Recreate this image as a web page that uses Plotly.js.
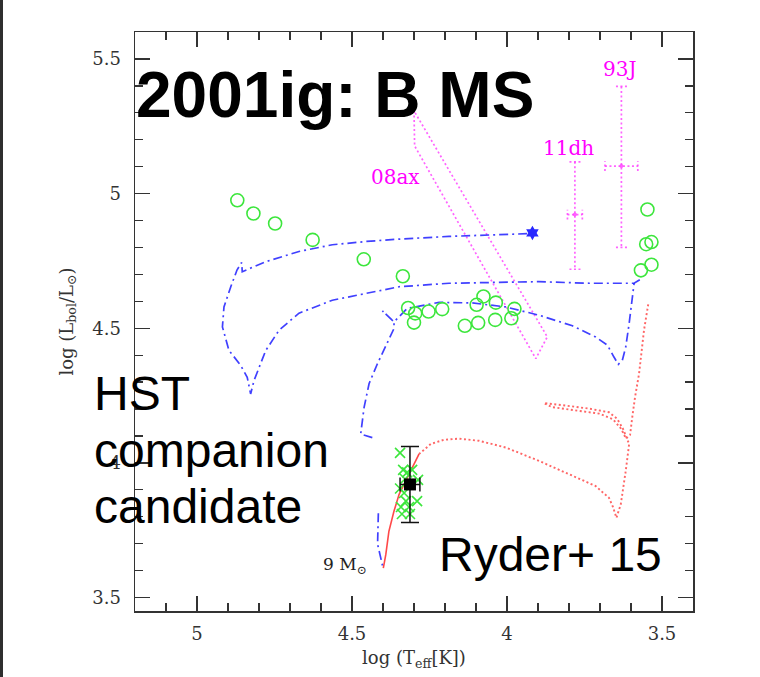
<!DOCTYPE html>
<html>
<head>
<meta charset="utf-8">
<script src="https://cdn.plot.ly/plotly-3.0.1.min.js"></script>
<style>
  html, body { margin: 0; padding: 0; background: #fff; }
  #wrap { position: relative; width: 760px; height: 677px; }
  #bar { position: absolute; left: 0; top: 0; width: 3px; height: 677px; background: #2e2e2e; z-index: 5; }
  #chart { width: 760px; height: 677px; }
</style>
</head>
<body>
<div id="wrap"><div id="bar"></div><div id="chart"></div></div>
<script>
// ---- Data (log Teff, log L) ----
const circleLogT = [4.870, 4.818, 4.748, 4.627, 4.462, 4.336, 4.319, 4.296, 4.300, 4.253, 4.209,
                    4.136, 4.093, 4.098, 4.076, 4.036, 4.038, 3.986, 3.976,
                    3.547, 3.551, 3.534, 3.534, 3.568];
const circleLogL = [4.975, 4.926, 4.889, 4.828, 4.756, 4.693, 4.575, 4.555, 4.521, 4.562, 4.571,
                    4.509, 4.520, 4.587, 4.618, 4.595, 4.531, 4.537, 4.572,
                    4.941, 4.812, 4.820, 4.736, 4.715];

const crossLogT = [4.345, 4.335, 4.306, 4.329, 4.287, 4.332, 4.290, 4.326, 4.342, 4.316, 4.339, 4.313, 4.345, 4.322];
const crossLogL = [4.037, 3.974, 3.974, 3.940, 3.937, 3.888, 3.858, 3.858, 3.836, 3.836, 3.810, 3.810, 3.905, 3.965];

// blue dash-dot track (upper)
const trackA_logT = [3.935, 4.058, 4.187, 4.348, 4.456, 4.5635, 4.671, 4.778, 4.854, 4.856, 4.871, 4.891,
                     4.913, 4.918, 4.897, 4.859, 4.838, 4.827, 4.816, 4.778, 4.735, 4.671, 4.5635, 4.456,
                     4.348, 4.187, 4.058, 3.897, 3.735, 3.590, 3.568];
const trackA_logL = [4.851, 4.847, 4.841, 4.831, 4.822, 4.810, 4.785, 4.747, 4.710, 4.744, 4.716, 4.654,
                     4.579, 4.505, 4.418, 4.362, 4.318, 4.256, 4.306, 4.418, 4.493, 4.556, 4.604, 4.629,
                     4.654, 4.667, 4.6705, 4.673, 4.667, 4.667, 4.683];
// blue dash-dot track (middle)
const trackB_logT = [4.4345, 4.472, 4.461, 4.445, 4.418, 4.386, 4.3645, 4.3645, 4.402, 4.3645, 4.322, 4.219,
                     4.113, 4.004, 3.897, 3.789, 3.714, 3.676, 3.655, 3.641, 3.628, 3.617, 3.606, 3.594, 3.590];
const trackB_logL = [4.094, 4.107, 4.206, 4.294, 4.368, 4.443, 4.499, 4.5235, 4.5645, 4.5235, 4.5735, 4.596,
                     4.594, 4.579, 4.5485, 4.509, 4.4675, 4.437, 4.393, 4.366, 4.381, 4.430, 4.5175, 4.642, 4.667];
// blue dash-dot piece of the 9 Msun track
const trackC_logT = [4.415, 4.418, 4.4175, 4.4016];
const trackC_logL = [3.813, 3.728, 3.698, 3.619];

// red 9 Msun track: solid main-sequence part and dotted later evolution
const red9ms_logT = [4.399, 4.391, 4.381, 4.3645, 4.348, 4.332, 4.3055, 4.284];
const red9ms_logL = [3.609, 3.659, 3.746, 3.821, 3.883, 3.920, 3.982, 4.0325];
const red9post_logT = [4.284, 4.246, 4.203, 4.155, 4.090, 4.004, 3.897, 3.789, 3.714, 3.671, 3.658, 3.647,
                       3.633, 3.617, 3.606,
                       3.626, 3.645, 3.671, 3.735, 3.8226, 3.881, 3.855, 3.784, 3.703, 3.658, 3.632, 3.616, 3.603,
                       3.596, 3.587, 3.574, 3.558, 3.544];
const red9post_logL = [4.0325, 4.070, 4.086, 4.090, 4.082, 4.057, 4.0075, 3.9515, 3.914, 3.870, 3.836, 3.796,
                       3.846, 3.970, 4.070,
                       4.127, 4.164, 4.188, 4.2015, 4.2146, 4.222, 4.207, 4.196, 4.183, 4.162, 4.127, 4.090, 4.104,
                       4.169, 4.244, 4.331, 4.493, 4.592];

// SN 2008ax progenitor region (dotted magenta box)
const sn08ax_logT = [4.300, 4.298, 3.907, 3.870, 4.300];
const sn08ax_logL = [5.307, 5.177, 4.387, 4.468, 5.307];

// SN 1993J and 2011dh progenitors with error bars
const snNames = ['93J', '11dh'];
const snLogT = [3.631, 3.781];
const snLogL = [5.102, 4.922];
const snErrLup = [0.296, 0.196];
const snErrLdn = [0.302, 0.203];
const snErrT = [0.053, 0.024];

// star symbol at the end of the upper blue track
const starLogT = [3.918];
const starLogL = [4.854];

// HST companion candidate
const hstLogT = [4.313];
const hstLogL = [3.920];
const hstErrT = [0.032];
const hstErrL = [0.141];

// ---- Build traces ----
const blue = 'rgba(30,30,255,0.85)';
const red = 'rgba(255,50,50,0.75)';
const mag = 'rgba(255,60,255,0.8)';
const green = 'rgb(60,230,60)';

const traces = [];
traces.push({x: sn08ax_logT, y: sn08ax_logL, mode: 'lines', line: {color: mag, width: 1.7, dash: '2px,2.5px'}, hoverinfo: 'skip'});

// dotted error bars for 93J / 11dh
const capT = 0.018, capL = 0.018;
const ex = [], ey = [];
for (let i = 0; i < snLogT.length; i++) {
  const t = snLogT[i], l = snLogL[i];
  const top = l + snErrLup[i], bot = l - snErrLdn[i];
  const lt = t + snErrT[i], rt = t - snErrT[i];
  ex.push(t, t, null, t - capT, t + capT, null, t - capT, t + capT, null);
  ey.push(top, bot, null, top, top, null, bot, bot, null);
  ex.push(lt, rt, null, lt, lt, null, rt, rt, null);
  ey.push(l, l, null, l - capL, l + capL, null, l - capL, l + capL, null);
}
traces.push({x: ex, y: ey, mode: 'lines', line: {color: mag, width: 1.7, dash: '2px,2.5px'}, connectgaps: false, hoverinfo: 'skip'});
traces.push({x: snLogT, y: snLogL, mode: 'markers', marker: {color: mag, size: 4, symbol: 'circle'}, hoverinfo: 'skip'});

const dd = '9px,4px,2px,4px';
traces.push({x: trackA_logT, y: trackA_logL, mode: 'lines', line: {color: blue, width: 1.7, dash: dd}, hoverinfo: 'skip'});
traces.push({x: trackB_logT, y: trackB_logL, mode: 'lines', line: {color: blue, width: 1.7, dash: dd}, hoverinfo: 'skip'});
traces.push({x: trackC_logT, y: trackC_logL, mode: 'lines', line: {color: blue, width: 1.7, dash: dd}, hoverinfo: 'skip'});
traces.push({x: starLogT, y: starLogL, mode: 'markers', marker: {color: 'rgb(40,40,255)', size: 11, symbol: 'hexagram'}, hoverinfo: 'skip'});

traces.push({x: red9ms_logT, y: red9ms_logL, mode: 'lines', line: {color: 'rgba(255,40,40,0.85)', width: 1.6}, hoverinfo: 'skip'});
traces.push({x: red9post_logT, y: red9post_logL, mode: 'lines', line: {color: red, width: 1.9, dash: '2px,2.5px'}, hoverinfo: 'skip'});

traces.push({x: circleLogT, y: circleLogL, mode: 'markers',
  marker: {symbol: 'circle-open', size: 13, color: green, line: {width: 1.6, color: green}}, hoverinfo: 'skip'});
traces.push({x: crossLogT, y: crossLogL, mode: 'markers',
  marker: {symbol: 'x-thin-open', size: 10, color: green, line: {width: 1.6, color: green}}, hoverinfo: 'skip'});

traces.push({x: hstLogT, y: hstLogL, mode: 'markers',
  marker: {symbol: 'square', size: 12, color: '#000'},
  error_x: {type: 'data', array: hstErrT, color: '#111', thickness: 1.5, width: 7},
  error_y: {type: 'data', array: hstErrL, color: '#111', thickness: 1.5, width: 9},
  hoverinfo: 'skip'});

// ---- Layout ----
const tickFont = {family: 'DejaVu Serif', size: 18, color: '#333'};
const axisCommon = {
  showgrid: false, zeroline: false, showline: true, linecolor: '#333', linewidth: 1.5,
  mirror: 'ticks', ticks: 'inside', ticklen: 15, tickwidth: 1.3, tickcolor: '#333',
  tickfont: tickFont, tickmode: 'linear', dtick: 0.5,
  minor: {ticks: 'inside', ticklen: 8, tickwidth: 1.3, tickcolor: '#333', dtick: 0.1, showgrid: false}
};

const bigFont = {family: 'Liberation Sans, Arial, sans-serif', size: 48, color: '#000'};
const magFont = {family: 'DejaVu Serif', size: 20, color: '#ff00ff'};

const annotations = [
  {xref: 'paper', yref: 'paper', x: -0.002, y: 0.891, xanchor: 'left', yanchor: 'middle', showarrow: false,
   text: '<b>2001ig: B MS</b>', font: {family: 'Liberation Sans, Arial, sans-serif', size: 64, color: '#000'}},
  {xref: 'paper', yref: 'paper', x: -0.077, y: 0.3756, xanchor: 'left', yanchor: 'middle', showarrow: false, text: 'HST', font: bigFont},
  {xref: 'paper', yref: 'paper', x: -0.077, y: 0.2777, xanchor: 'left', yanchor: 'middle', showarrow: false, text: 'companion', font: bigFont},
  {xref: 'paper', yref: 'paper', x: -0.077, y: 0.180, xanchor: 'left', yanchor: 'middle', showarrow: false, text: 'candidate', font: bigFont},
  {xref: 'paper', yref: 'paper', x: 0.541, y: 0.098, xanchor: 'left', yanchor: 'middle', showarrow: false, text: 'Ryder+ 15', font: bigFont},
  {xref: 'paper', yref: 'paper', x: 0.869, y: 0.936, xanchor: 'center', yanchor: 'middle', showarrow: false, text: snNames[0], font: magFont},
  {xref: 'paper', yref: 'paper', x: 0.7765, y: 0.800, xanchor: 'center', yanchor: 'middle', showarrow: false, text: snNames[1], font: magFont},
  {xref: 'paper', yref: 'paper', x: 0.4677, y: 0.750, xanchor: 'center', yanchor: 'middle', showarrow: false, text: '08ax', font: magFont},
  {xref: 'paper', yref: 'paper', x: 0.376, y: 0.078, xanchor: 'center', yanchor: 'middle', showarrow: false,
   text: '9 M<sub>⊙</sub>', font: {family: 'DejaVu Serif', size: 17, color: '#222'}}
];

const layout = {
  width: 760, height: 677,
  margin: {l: 135, r: 67, t: 32, b: 66, pad: 0},
  paper_bgcolor: '#fff', plot_bgcolor: '#fff',
  showlegend: false,
  xaxis: Object.assign({}, axisCommon, {
    range: [5.2, 3.4], tick0: 5,
    minor: Object.assign({}, axisCommon.minor, {tick0: 5}),
    ticklabelstandoff: 6,
    title: {text: 'log (T<sub>eff</sub>[K])', font: {family: 'DejaVu Serif', size: 18, color: '#333'}, standoff: 8}
  }),
  yaxis: Object.assign({}, axisCommon, {
    range: [3.45, 5.6], tick0: 3.5,
    minor: Object.assign({}, axisCommon.minor, {tick0: 3.5}),
    ticklabelstandoff: 9,
    title: {text: 'log (L<sub>bol</sub>/L<sub>⊙</sub>)', font: {family: 'DejaVu Serif', size: 18, color: '#333'}, standoff: 14}
  }),
  annotations: annotations
};

Plotly.newPlot('chart', traces, layout, {staticPlot: true, displayModeBar: false});
</script>
</body>
</html>
